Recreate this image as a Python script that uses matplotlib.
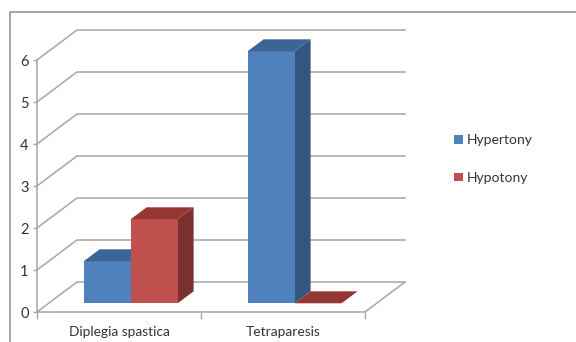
import matplotlib
matplotlib.use("Agg")
import matplotlib.pyplot as plt
from matplotlib.lines import Line2D
from matplotlib.patches import Patch, Polygon

categories = ["Diplegia spastica", "Tetraparesis"]
hypertony = [1, 6]
hypotony = [2, 0]
y_ticks = [0, 1, 2, 3, 4, 5, 6]

W, H = 576, 342
GRAY = "#a6a6a6"
TEXT = "#333333"

plt.rcParams["font.family"] = ["Lato", "DejaVu Sans"]
plt.rcParams["font.size"] = 9

fig = plt.figure(figsize=(W / 100, H / 100), dpi=100)
ax = fig.add_axes([37 / W, 1 - 312 / H, 328 / W, 252 / H])
ax.set_xlim(0, 2)
ax.set_ylim(0, 6)
ax.patch.set_visible(False)

# oblique depth of the chart box, in data units
depth_x = 40 / 164
depth_y = 30 / 42
bar_w = 47 / 164
gap = (1 - 2 * bar_w) / 2
front = 0.29
back = 0.69


def proj(x, y, d):
    return x + d * depth_x, y + d * depth_y


# back wall and floor lines
for v in y_ticks:
    ax.plot(*zip(proj(0, v, 0), proj(0, v, 1), proj(2, v, 1)), color=GRAY, lw=1.1,
            clip_on=False, zorder=1, solid_joinstyle="miter")
ax.plot(*zip(proj(2, 0, 0), proj(2, 0, 1)), color=GRAY, lw=1.1, clip_on=False, zorder=1)


def bar3d(x, v, face, top, side):
    x1 = x + bar_w
    if v > 0:
        ax.add_patch(Polygon([proj(x1, 0, front), proj(x1, 0, back), proj(x1, v, back), proj(x1, v, front)],
                             fc=side, ec="none", clip_on=False, zorder=2))
        ax.add_patch(Polygon([proj(x, 0, front), proj(x1, 0, front), proj(x1, v, front), proj(x, v, front)],
                             fc=face, ec="none", clip_on=False, zorder=3))
    ax.add_patch(Polygon([proj(x, v, front), proj(x1, v, front), proj(x1, v, back), proj(x, v, back)],
                         fc=top, ec="none", clip_on=False, zorder=3))


# draw series left to right so the neighbour covers the side face
for i in range(len(categories)):
    bar3d(i + gap, hypertony[i], "#4f81bd", "#3c6494", "#335680")
    bar3d(i + gap + bar_w, hypotony[i], "#c0504d", "#953735", "#7a302e")

for s in ["top", "right"]:
    ax.spines[s].set_visible(False)
for s in ["left", "bottom"]:
    ax.spines[s].set_color(GRAY)
    ax.spines[s].set_linewidth(1.1)

ax.set_yticks(y_ticks)
ax.tick_params(axis="y", length=3, width=1, color=GRAY, labelcolor=TEXT, labelsize=10.5, pad=3)
ax.set_xticks([0, 1, 2])
ax.set_xticklabels([])
ax.tick_params(axis="x", length=5, width=1, color=GRAY)
ax.set_xticks([0.5, 1.5], minor=True)
ax.set_xticklabels(categories, minor=True)
ax.tick_params(axis="x", which="minor", length=0, labelcolor=TEXT, labelsize=9.9, pad=10)

# outer chart border, runs off the right and bottom edges
fig.add_artist(Line2D([9.5 / W, 9.5 / W, 1], [0, 1 - 11.5 / H, 1 - 11.5 / H], color="#8c8c8c", lw=1.1))

handles = [Patch(fc="#4f81bd", label="Hypertony"), Patch(fc="#c0504d", label="Hypotony")]
fig.legend(handles=handles, loc="center left", bbox_to_anchor=(453.5 / W, 1 - 159 / H), frameon=False,
           handlelength=0.65, handleheight=0.6, handletextpad=0.3, labelspacing=1.85,
           labelcolor=TEXT, fontsize=10, borderpad=0, borderaxespad=0)

fig.savefig("out.png", dpi=100)
